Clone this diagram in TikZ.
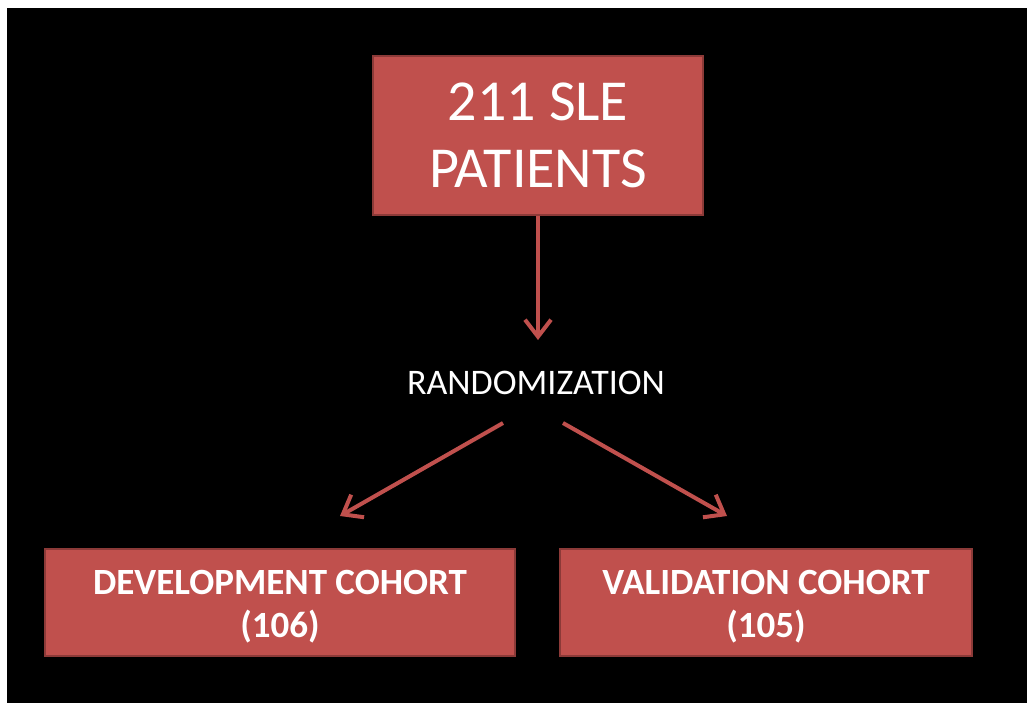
\documentclass[tikz,border=0pt]{standalone}
\usepackage{fontspec}
\setmainfont{Carlito}
\usetikzlibrary{arrows.meta}
\definecolor{boxred}{HTML}{C0504D}
\definecolor{boxedge}{HTML}{8C3A38}
\tikzset{
  flowbox/.style={rectangle, fill=boxred, draw=boxedge, line width=2.5pt,
    inner sep=0pt},
  boxtext/.style={text=white, align=center, inner sep=0pt},
  flowarrow/.style={draw=boxred, line width=4pt,
    -{Straight Barb[length=17pt,width=26pt]}},
}
\begin{document}
\begin{tikzpicture}[x=1pt,y=-1pt]
  % canvas and black backdrop
  \fill[white] (0,0) rectangle (1027,703);
  \fill[black] (7,8) rectangle (1027,703);
  \useasboundingbox (0,0) rectangle (1027,703);

  % boxes
  \node[flowbox, minimum width=330pt, minimum height=159pt] (pat) at (538,135.5) {};
  \node[boxtext, font=\fontsize{58}{67}\selectfont] (pattext) at (pat.center)
        {211 SLE\\PATIENTS};
  \node[text=white, font=\fontsize{36}{40}\selectfont, inner sep=4pt] (rand) at (536,383)
        {RANDOMIZATION};
  \node[flowbox, minimum width=470pt, minimum height=107pt] (dev) at (280,602.5) {};
  \node[boxtext, font=\bfseries\fontsize{37}{43}\selectfont] (devtext)
        at ([yshift=-4pt]dev.center) {DEVELOPMENT COHORT\\(106)};
  \node[flowbox, minimum width=412pt, minimum height=107pt] (val) at (766,602.5) {};
  \node[boxtext, font=\bfseries\fontsize{37}{43}\selectfont] (valtext)
        at ([yshift=-4pt]val.center) {VALIDATION COHORT\\(105)};

  % arrow end points
  \coordinate (a0) at (538,340);
  \coordinate (l0) at (503,423);
  \coordinate (l1) at (340,516);
  \coordinate (r0) at (563,423);
  \coordinate (r1) at (727,516);

  % connectors
  \draw[flowarrow] (pat.south) -- (a0);
  \draw[flowarrow] (l0) -- (l1);
  \draw[flowarrow] (r0) -- (r1);
\end{tikzpicture}
\end{document}
